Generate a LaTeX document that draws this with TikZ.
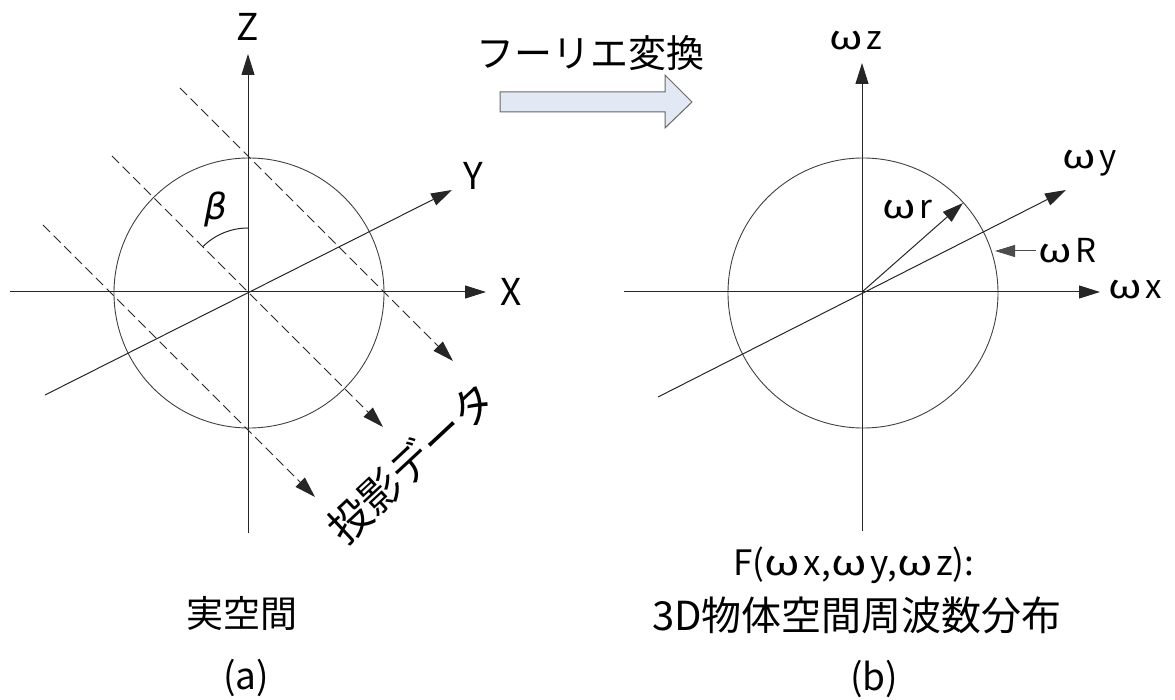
\documentclass[tikz,border=0pt]{standalone}
\usepackage{fontspec}
\usepackage{graphicx}
\setmainfont{Noto Sans CJK JP}
\newfontfamily\dvs{DejaVu Sans}
\newcommand\om{\makebox[1.12em][l]{\scalebox{1.3}[1]{ω}}}
\usetikzlibrary{arrows.meta}
\definecolor{arrowfill}{RGB}{226,233,245}
\begin{document}
\begin{tikzpicture}[x=1pt,y=-1pt,
  axis/.style={line width=1pt, draw=black!85, -{Triangle[length=21pt,width=13pt]}},
  plain/.style={line width=1pt, draw=black!85},
  proj/.style={line width=1pt, draw=black!85, dash pattern=on 10pt off 5pt, -{Triangle[length=21pt,width=13pt]}},
  ring/.style={line width=0.9pt, draw=black!75},
  rarrow/.style={line width=1pt, draw=black!70, -{Triangle[length=20pt,width=12pt,fill=black!70]}},
  lbl/.style={font=\fontsize{37}{40}\selectfont, inner sep=0pt},
  wlbl/.style={font=\fontsize{33}{36}\selectfont, inner sep=0pt},
  jp/.style={font=\fontsize{37}{42}\selectfont, inner sep=0pt},
  fbox/.style={line width=1pt, draw=black!60, fill=arrowfill}]
\useasboundingbox (0,0) rectangle (1175,700);

% ---------- left diagram ----------
\coordinate (O1) at (248,292);
\coordinate (Zb) at (248,533);
\coordinate (Zt) at (248,54);
\coordinate (Xl) at (10,292);
\coordinate (Xr) at (486,292);
\coordinate (Yl) at (45,395);
\coordinate (Yr) at (452,190);
\draw[ring] (249,293) circle[radius=135];
\draw[axis] (Zb) -- (Zt);
\draw[axis] (Xl) -- (Xr);
\draw[axis] (Yl) -- (Yr);
\node[lbl] (Z) at (248,27) {Z};
\node[lbl] (X) at (511,292) {X};
\node[lbl] (Y) at (473,176) {Y};

\coordinate (P1s) at (180,88);  \coordinate (P1e) at (453,361);
\coordinate (P2s) at (112,156); \coordinate (P2e) at (383,427);
\coordinate (P3s) at (43,225);  \coordinate (P3e) at (315,497);
\draw[proj] (P1s) -- (P1e);
\draw[proj] (P2s) -- (P2e);
\draw[proj] (P3s) -- (P3e);

\coordinate (Barc) at (248,228);
\draw[plain] (Barc) arc[start angle=-90, end angle=-135, radius=64];
\node[inner sep=0pt, font=\dvs\itshape\fontsize{36}{38}\selectfont] (beta) at (216,209) {β};

\node[font=\fontsize{42}{46}\selectfont, inner sep=0pt, rotate=43] (proj) at (411,463) {投影データ};

% ---------- Fourier arrow ----------
\draw[fbox] (500,92) -- (665,92) -- (665,75) -- (692,102) -- (665,128) -- (665,112) -- (500,112) -- cycle;
\node[font=\fontsize{38}{42}\selectfont, inner sep=0pt] (ft) at (590,53) {フーリエ変換};

% ---------- right diagram ----------
\coordinate (O2) at (862,292);
\coordinate (Wzb) at (862,531);
\coordinate (Wzt) at (862,63);
\coordinate (Wxl) at (624,292);
\coordinate (Wxr) at (1100,292);
\coordinate (Wyl) at (658,397);
\coordinate (Wyr) at (1066,190);
\coordinate (Wr) at (963,203);
\coordinate (WRs) at (1036,251);
\coordinate (WRe) at (995,251);
\draw[ring] (863,293) circle[radius=135];
\draw[axis] (Wzb) -- (Wzt);
\draw[axis] (Wxl) -- (Wxr);
\draw[axis] (Wyl) -- (Wyr);
\draw[axis] (O2) -- (Wr);
\draw[rarrow] (WRs) -- (WRe);
\node[wlbl, anchor=west] (wz) at (829,41) {\om z};
\node[wlbl, anchor=west] (wx) at (1108,290) {\om x};
\node[wlbl, anchor=west] (wy) at (1062,163) {\om y};
\node[wlbl, anchor=west] (wr) at (882,210) {\om r};
\node[wlbl, anchor=west] (wR) at (1038,251) {\om R};

% ---------- captions ----------
\node[jp] (ja) at (242,613) {実空間};
\node[jp] (ca) at (246,678) {(a)};
\node[inner sep=0pt, font=\fontsize{35}{38}\selectfont] (fl) at (854,565) {F(\om x,\om y,\om z):};
\node[font=\fontsize{40}{44}\selectfont, inner sep=0pt] (jb) at (857,615) {3D物体空間周波数分布};
\node[jp] (cb) at (874,679) {(b)};
\end{tikzpicture}
\end{document}
